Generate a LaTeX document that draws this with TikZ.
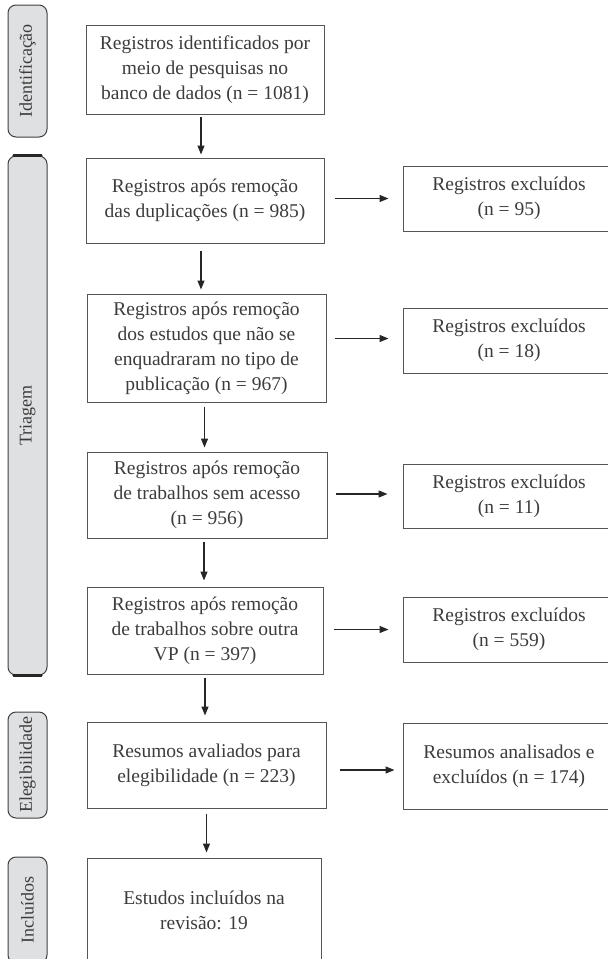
\documentclass[tikz,border=0pt]{standalone}
\usepackage{fontspec}
\setmainfont{Liberation Serif}
\usetikzlibrary{arrows.meta}

\definecolor{boxline}{HTML}{555555}
\definecolor{txtgray}{HTML}{3C3C3C}
\definecolor{sidefill}{HTML}{DFE0E2}

\tikzset{
  stagebox/.style={draw=boxline, line width=1pt, text=txtgray, align=center,
    font=\fontsize{19.5}{25}\selectfont, inner sep=0pt},
  sidelabel/.style={draw=black!75, fill=sidefill, rounded corners=8pt, line width=1pt,
    rotate=90, text=txtgray, font=\fontsize{18}{20}\selectfont, inner sep=0pt,
    minimum height=39pt},
  flow/.style={-{Triangle[length=9pt,width=7pt]}, line width=1.3pt, black!85},
}

\begin{document}
\begin{tikzpicture}[x=1pt, y=-1pt]
    \clip (0,0) rectangle (608,959);

    % Phase labels on the left
    \node[sidelabel, minimum width=132pt] (identif) at (27.5,71) {Identificação};
    \node[sidelabel, minimum width=519pt] (triagem) at (27.5,415.5) {Triagem};
    \node[sidelabel, minimum width=106pt] (elegib) at (27.5,765) {Elegibilidade};
    \node[sidelabel, minimum width=106pt] (incl) at (27.5,910) {Incluídos};
    % heavier ends of the Triagem bar
    \draw[line width=2.2pt, black!85, line cap=round] ([xshift=-14pt]triagem.west) -- ([xshift=14pt]triagem.west);
    \draw[line width=2.2pt, black!85, line cap=round] ([xshift=-14pt]triagem.east) -- ([xshift=14pt]triagem.east);

    % Main column
    \node[stagebox, minimum width=238pt, minimum height=89pt] (b1) at (205,69.5)
        {Registros identificados por\\meio de pesquisas no\\banco de dados (n = 1081)};
    \node[stagebox, minimum width=238pt, minimum height=85pt] (b2) at (205,200.5)
        {Registros após remoção\\das duplicações (n = 985)};
    \node[stagebox, minimum width=239pt, minimum height=108pt] (b3) at (206.5,348)
        {Registros após remoção\\dos estudos que não se\\enquadraram no tipo de\\publicação (n = 967)};
    \node[stagebox, minimum width=240pt, minimum height=86pt] (b4) at (207,495)
        {Registros após remoção\\de trabalhos sem acesso\\(n = 956)};
    \node[stagebox, minimum width=236pt, minimum height=87pt] (b5) at (205,630.5)
        {Registros após remoção\\de trabalhos sobre outra\\VP (n = 397)};
    \node[stagebox, minimum width=239pt, minimum height=86pt] (b6) at (206.5,765)
        {Resumos avaliados para\\elegibilidade (n = 223)};
    \node[stagebox, minimum width=234pt, minimum height=104pt] (b7) at (204,910)
        {Estudos incluídos na\\revisão: 19};

    % Excluded records
    \node[stagebox, minimum width=212pt, minimum height=65pt] (r1) at (509,198.5)
        {Registros excluídos\\(n = 95)};
    \node[stagebox, minimum width=212pt, minimum height=65pt] (r2) at (509,340.5)
        {Registros excluídos\\(n = 18)};
    \node[stagebox, minimum width=212pt, minimum height=64pt] (r3) at (509,496)
        {Registros excluídos\\(n = 11)};
    \node[stagebox, minimum width=212pt, minimum height=65pt] (r4) at (509,629.5)
        {Registros excluídos\\(n = 559)};
    \node[stagebox, minimum width=212pt, minimum height=86pt] (r5) at (509,766)
        {Resumos analisados e\\excluídos (n = 174)};

    % Vertical arrows
    \draw[flow, shorten <=2pt, shorten >=3pt] ([xshift=-4pt]b1.south) -- ([xshift=-4pt]b1.south |- b2.north);
    \draw[flow, shorten <=7pt, shorten >=4pt] ([xshift=-4pt]b2.south) -- ([xshift=-4pt]b2.south |- b3.north);
    \draw[flow, shorten <=4pt, shorten >=4pt] ([xshift=-2pt]b3.south) -- ([xshift=-2pt]b3.south |- b4.north);
    \draw[flow, shorten <=3pt, shorten >=6pt] ([xshift=-3pt]b4.south) -- ([xshift=-3pt]b4.south |- b5.north);
    \draw[flow, shorten <=3pt, shorten >=6pt] (b5.south) -- (b5.south |- b6.north);
    \draw[flow, shorten <=5pt, shorten >=5pt] (b6.south) -- (b6.south |- b7.north);

    % Horizontal arrows
    \draw[flow, shorten <=10pt, shorten >=14pt] (b2.east |- r1.west) -- (r1.west);
    \draw[flow, shorten <=8pt, shorten >=14pt] ([yshift=2pt]b3.east |- r2.west) -- ([yshift=2pt]r2.west);
    \draw[flow, shorten <=8pt, shorten >=15pt] ([yshift=2pt]b4.east |- r3.west) -- ([yshift=2pt]r3.west);
    \draw[flow, shorten <=10pt, shorten >=14pt] (b5.east |- r4.west) -- (r4.west);
    \draw[flow, shorten <=13pt, shorten >=8pt] ([yshift=-4pt]b6.east |- r5.west) -- ([yshift=-4pt]r5.west);
\end{tikzpicture}
\end{document}
